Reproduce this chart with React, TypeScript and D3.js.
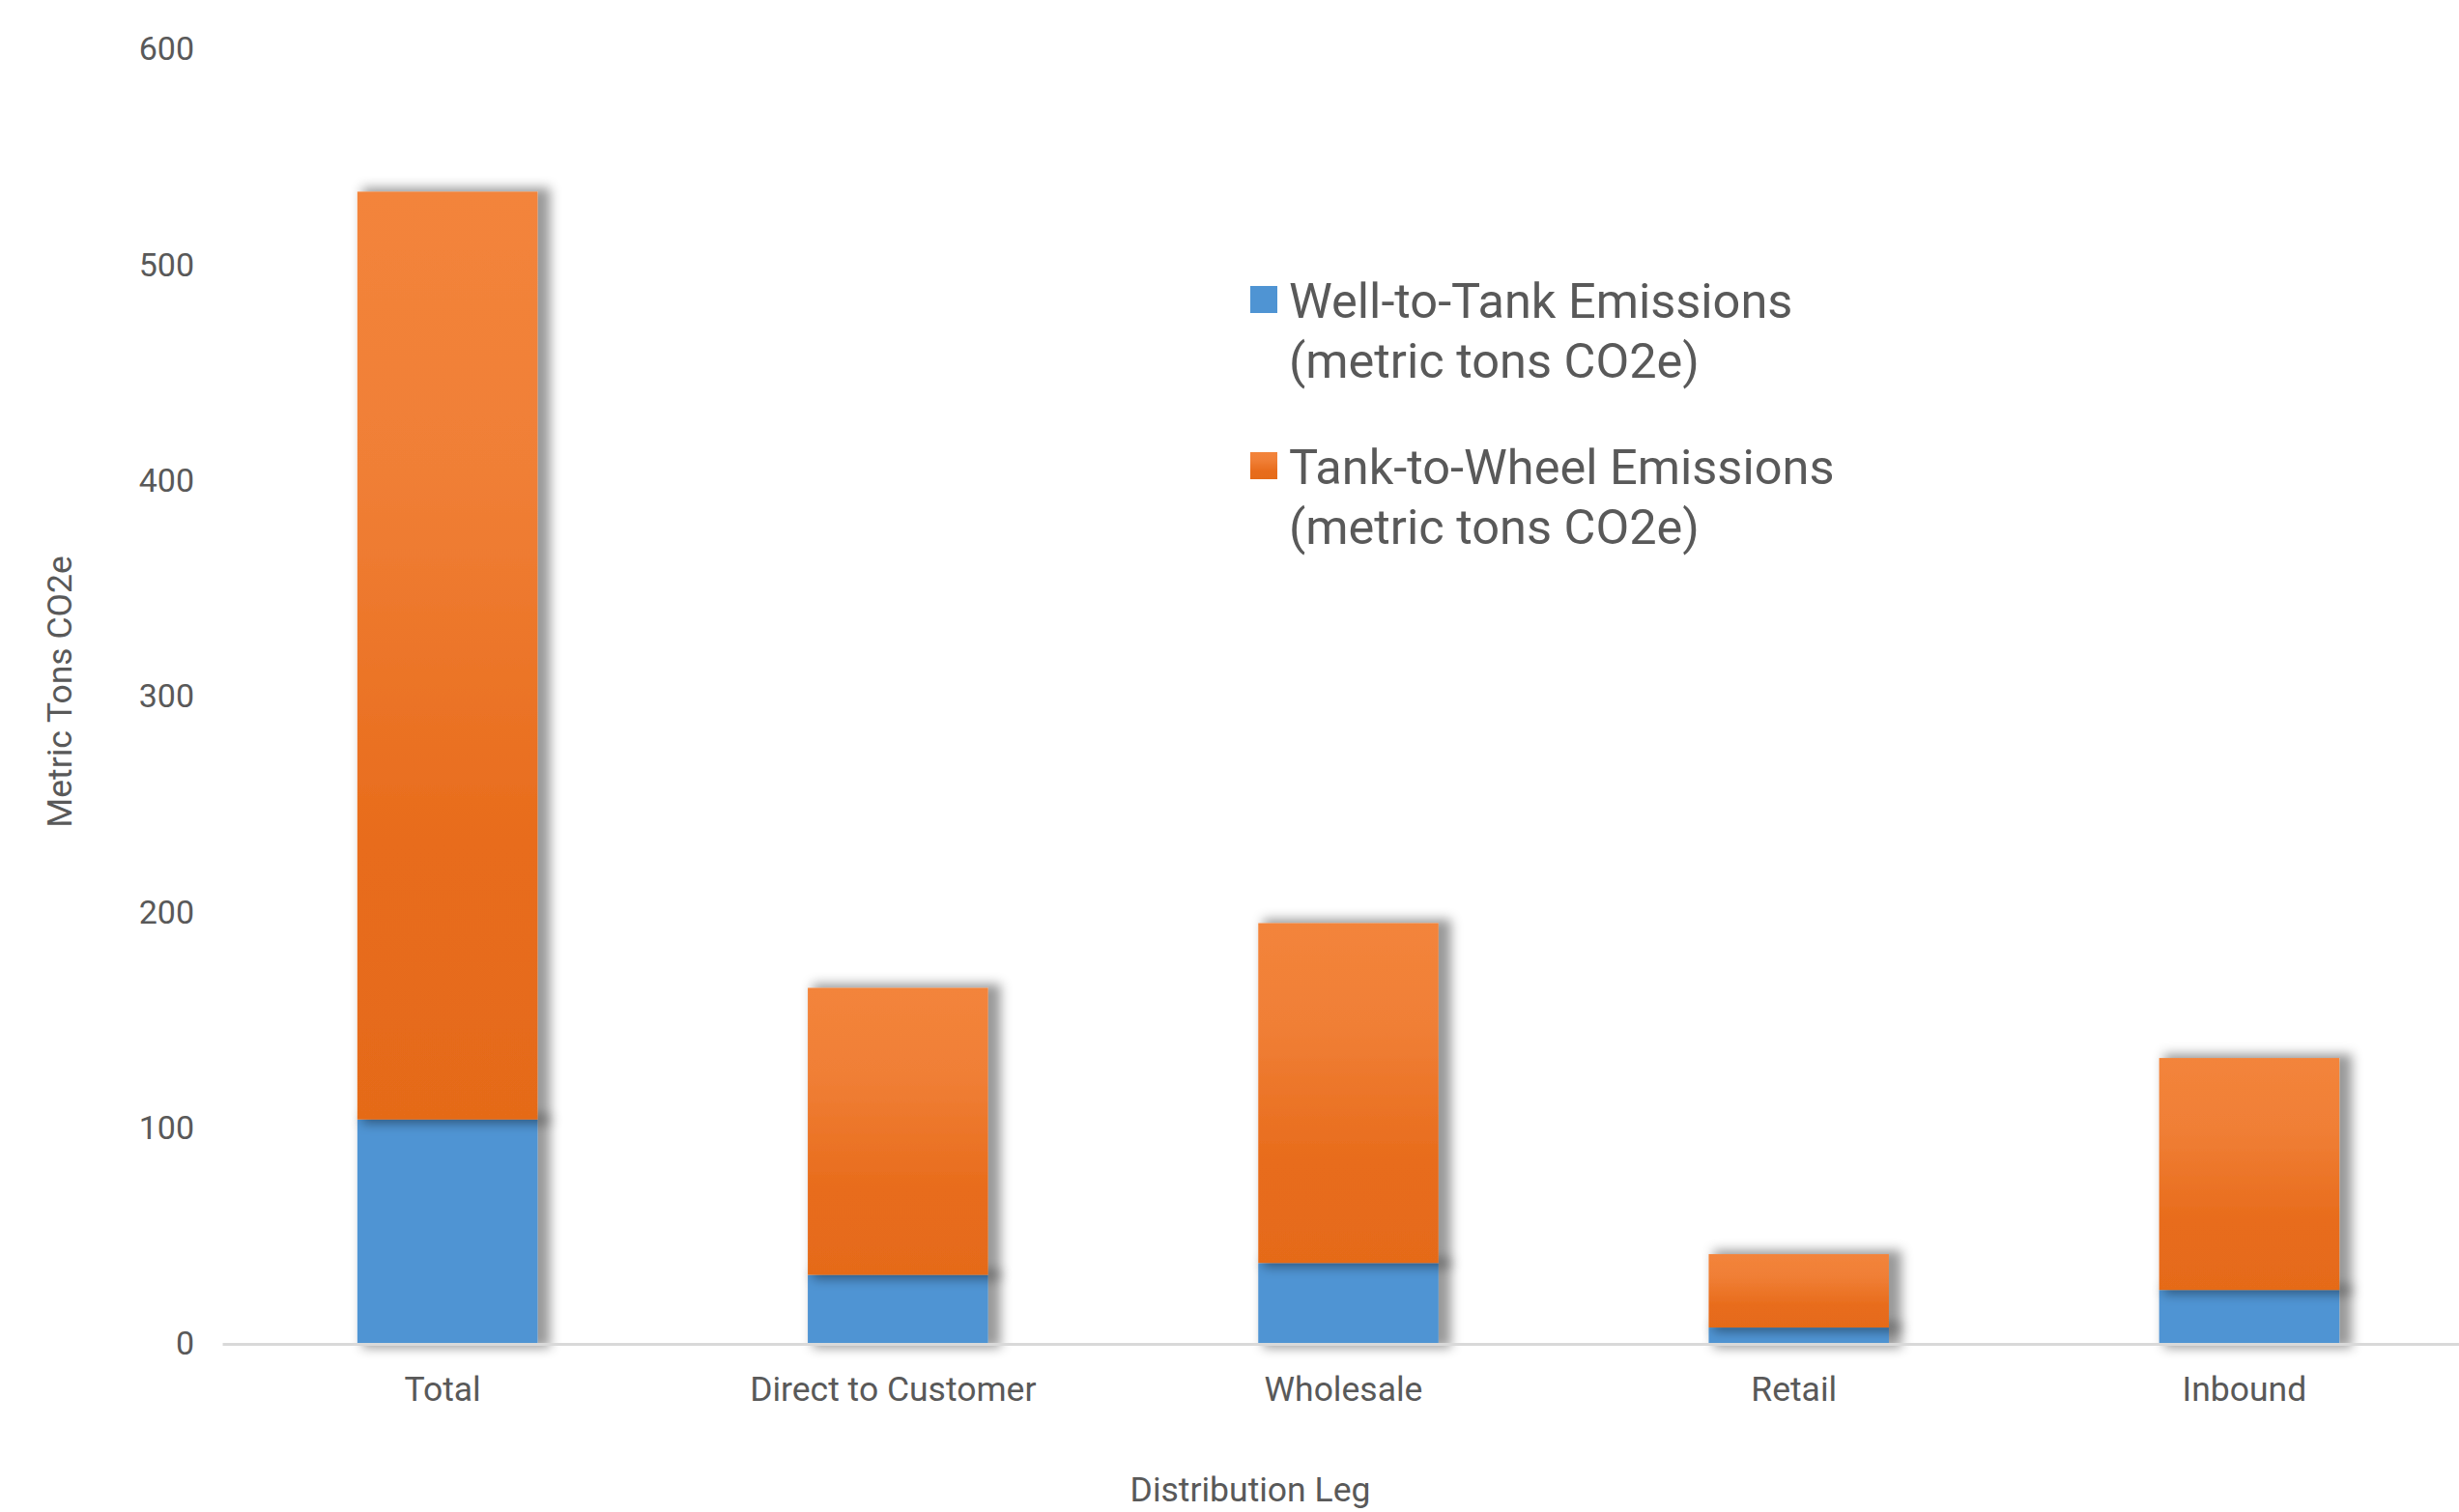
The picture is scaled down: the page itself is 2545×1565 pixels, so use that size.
import React, { useEffect, useRef } from 'react';
import * as d3 from 'd3';

const categories = ['Total', 'Direct to Customer', 'Wholesale', 'Retail', 'Inbound'];
const wellToTank = [104, 32, 37.5, 7.6, 25];
const tankToWheel = [430, 133, 157.5, 34, 107.5];
const yTicks = [0, 100, 200, 300, 400, 500, 600];
const seriesNames = [
  ['Well-to-Tank Emissions', '(metric tons CO2e)'],
  ['Tank-to-Wheel Emissions', '(metric tons CO2e)'],
];

const FONT = 'Roboto, "Liberation Sans", sans-serif';
const TEXT = '#595959';

function App() {
  const graphRef = useRef<SVGSVGElement>(null);

  function drawChart() {
    const width = 2545;
    const height = 1565;
    const svg = d3.select(graphRef.current);
    svg.selectAll('*').remove();
    svg.attr('width', width).attr('height', height);

    const defs = svg.append('defs');
    const grad = defs.append('linearGradient')
      .attr('id', 'orangeGrad')
      .attr('x1', 0).attr('y1', 0).attr('x2', 0).attr('y2', 1);
    grad.append('stop').attr('offset', '0%').attr('stop-color', '#F3843B');
    grad.append('stop').attr('offset', '30%').attr('stop-color', '#F07F36');
    grad.append('stop').attr('offset', '70%').attr('stop-color', '#E86C1C');
    grad.append('stop').attr('offset', '100%').attr('stop-color', '#E56B19');

    // outer shadow, a bit bigger than the bar and pushed right
    const shadow = defs.append('filter')
      .attr('id', 'shadow')
      .attr('x', '-20%').attr('y', '-20%').attr('width', '150%').attr('height', '150%');
    shadow.append('feMorphology')
      .attr('in', 'SourceAlpha').attr('operator', 'dilate').attr('radius', 4).attr('result', 'grow');
    shadow.append('feOffset')
      .attr('in', 'grow').attr('dx', 9).attr('dy', 0).attr('result', 'off');
    shadow.append('feGaussianBlur')
      .attr('in', 'off').attr('stdDeviation', 6).attr('result', 'blur');
    shadow.append('feFlood').attr('flood-color', '#000').attr('flood-opacity', 0.4);
    shadow.append('feComposite').attr('in2', 'blur').attr('operator', 'in').attr('result', 'sh');
    const merge = shadow.append('feMerge');
    merge.append('feMergeNode').attr('in', 'sh');
    merge.append('feMergeNode').attr('in', 'SourceGraphic');

    const rows = categories.map((c, i) => ({ cat: c, wtt: wellToTank[i], ttw: tankToWheel[i] }));
    const stacked = d3.stack<any>().keys(['wtt', 'ttw'])(rows);

    const x = d3.scaleBand()
      .domain(categories)
      .range([230, 2561])
      .paddingInner(0.6)
      .paddingOuter(0.3);

    const y = d3.scaleLinear()
      .domain([0, 600])
      .range([1391, 51]);

    // bars
    const colors = ['#4F94D3', 'url(#orangeGrad)'];
    stacked.forEach((layer, li) => {
      svg.append('g')
        .attr('filter', 'url(#shadow)')
        .selectAll('rect')
        .data(layer)
        .enter()
        .append('rect')
          .attr('x', (d: any) => x(d.data.cat)!)
          .attr('width', x.bandwidth())
          .attr('y', (d: any) => y(d[1]))
          .attr('height', (d: any) => y(d[0]) - y(d[1]))
          .attr('fill', colors[li]);
    });

    // x axis
    const xAxis = svg.append('g')
      .attr('transform', 'translate(0,1391)')
      .call(d3.axisBottom(x).tickSize(0).tickPadding(34));
    xAxis.select('.domain').attr('stroke', '#D9D9D9').attr('stroke-width', 3);
    xAxis.selectAll('text')
      .attr('fill', TEXT)
      .attr('dx', -5)
      .style('font-family', FONT)
      .style('font-size', '35.5px');

    // y axis
    const yAxis = svg.append('g')
      .attr('transform', 'translate(230,0)')
      .call(d3.axisLeft(y).tickValues(yTicks).tickSize(0).tickPadding(29));
    yAxis.select('.domain').remove();
    yAxis.selectAll('text')
      .attr('fill', TEXT)
      .style('font-family', FONT)
      .style('font-size', '34px');

    // axis titles
    svg.append('text')
      .attr('x', 1294)
      .attr('y', 1554)
      .attr('text-anchor', 'middle')
      .attr('fill', TEXT)
      .style('font-family', FONT)
      .style('font-size', '35.5px')
      .text('Distribution Leg');

    svg.append('text')
      .attr('transform', 'translate(74,716) rotate(-90)')
      .attr('text-anchor', 'middle')
      .attr('fill', TEXT)
      .style('font-family', FONT)
      .style('font-size', '35.5px')
      .text('Metric Tons CO2e');

    // legend
    const legendColors = ['#4F94D3', 'url(#orangeGrad)'];
    const legend = svg.append('g').attr('transform', 'translate(1294,0)');
    seriesNames.forEach((lines, i) => {
      const top = 296 + i * 172;
      legend.append('rect')
        .attr('x', 0)
        .attr('y', top)
        .attr('width', 28)
        .attr('height', 28)
        .attr('fill', legendColors[i]);
      const t = legend.append('text')
        .attr('x', 40)
        .attr('y', top + 33)
        .attr('fill', TEXT)
        .style('font-family', FONT)
        .style('font-size', '50.5px');
      lines.forEach((ln, j) => {
        t.append('tspan')
          .attr('x', 40)
          .attr('dy', j === 0 ? 0 : 62)
          .text(ln);
      });
    });
  }

  useEffect(() => {
    drawChart();
  }, []);

  return (
    <svg ref={graphRef} style={{ position: 'absolute', left: 0, top: 0, display: 'block' }}></svg>
  );
}

export default App;
